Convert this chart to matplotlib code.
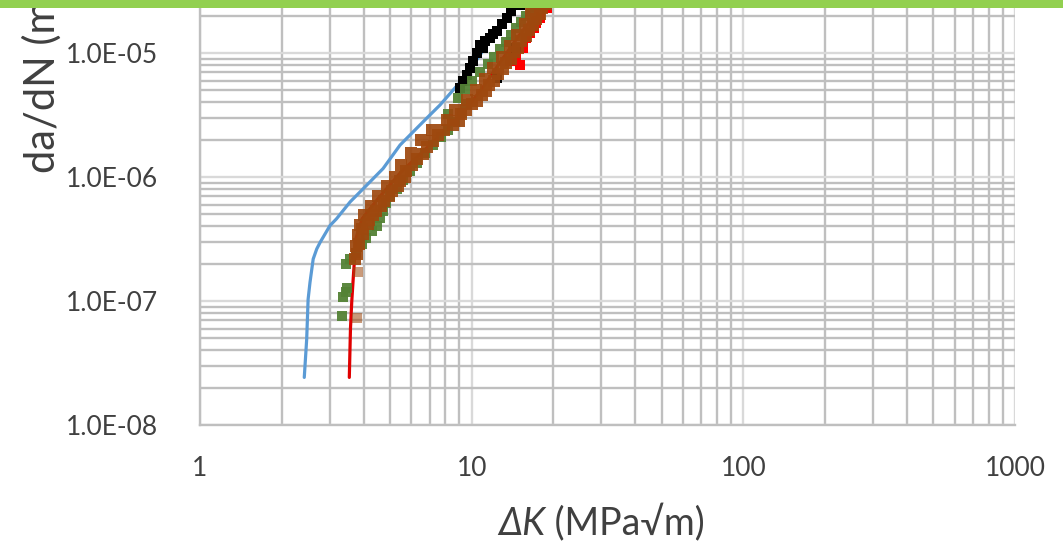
import matplotlib
matplotlib.use("Agg")
import matplotlib.pyplot as plt
from matplotlib.patches import Rectangle
from matplotlib.ticker import LogLocator, FixedLocator, NullFormatter

# ---------------- data ----------------
blue_dK = [2.42, 2.47, 2.50, 2.54, 2.61, 2.69, 2.77, 3.01, 3.18, 3.57, 3.99, 4.72, 5.45, 6.83, 7.64, 9.58, 12.7, 14.6]
blue_dadN = [2.42e-8, 4.9e-8, 1.03e-7, 1.41e-7, 2.18e-7, 2.63e-7, 2.98e-7, 4.06e-7, 4.6e-7, 6.3e-7, 8.05e-7,
             1.17e-6, 1.81e-6, 2.98e-6, 3.8e-6, 6.68e-6, 1.66e-5, 2.47e-5]

red_line_dK = [3.545, 3.58, 3.62, 3.67, 3.75, 3.95, 4.5, 5.5, 7.0, 9.0, 11.0, 13.0, 15.0, 17.0, 19.0]
red_line_dadN = [2.42e-8, 6.0e-8, 1.0e-7, 1.6e-7, 3.2e-7, 4.6e-7, 6.6e-7, 1.1e-6, 1.8e-6, 3.0e-6, 5.3e-6,
                 9.0e-6, 1.4e-5, 2.0e-5, 2.6e-5]

red_dK = [13.8, 14.2, 14.6, 15.1, 15.4, 15.9, 16.4, 16.9, 17.3, 17.8, 18.9]
red_dadN = [8.6e-6, 1.0e-5, 9.7e-6, 8.05e-6, 1.1e-5, 1.33e-5, 1.45e-5, 1.6e-5, 1.75e-5, 1.93e-5, 2.32e-5]

black_dK = [9.06, 9.3, 9.58, 9.9, 10.14, 10.5, 10.7, 11.0, 11.2, 11.7, 12.0, 12.4, 12.4, 12.9, 13.5, 14.0, 14.6, 15.1]
black_dadN = [5.2e-6, 5.9e-6, 6.7e-6, 7.6e-6, 8.6e-6, 1.0e-5, 1.17e-5, 1.1e-5, 1.25e-5, 1.33e-5, 1.42e-5,
              1.5e-5, 6.3e-6, 1.7e-5, 1.93e-5, 2.18e-5, 1.1e-5, 2.45e-5]

green_dK = [3.32, 3.37, 3.45, 3.48, 3.46, 3.58, 3.75, 3.95, 4.10, 4.30, 4.47, 4.60, 4.72, 4.85, 5.00, 5.30,
            5.60, 5.95, 6.30, 6.75, 7.20, 7.70, 8.20, 8.70, 9.20, 9.50,
            8.20, 8.90, 9.45, 10.0, 10.7, 11.5, 12.1, 12.7, 13.4, 14.0, 14.6, 15.2, 15.9, 16.5, 17.1, 17.7]
green_dadN = [7.6e-8, 1.07e-7, 1.18e-7, 1.28e-7, 2.0e-7, 2.2e-7, 2.45e-7, 2.9e-7, 3.2e-7, 3.7e-7, 4.0e-7,
              4.7e-7, 5.3e-7, 6.2e-7, 7.0e-7, 8.0e-7, 9.5e-7, 1.12e-6, 1.3e-6, 1.55e-6, 1.8e-6, 2.1e-6,
              2.4e-6, 2.8e-6, 3.3e-6, 3.9e-6,
              3.2e-6, 4.3e-6, 5.1e-6, 6.0e-6, 7.0e-6, 8.1e-6, 9.3e-6, 1.07e-5, 1.22e-5, 1.4e-5, 1.58e-5,
              1.78e-5, 1.98e-5, 2.18e-5, 2.35e-5, 2.6e-5]

brown_light_dK = [3.77, 3.80]
brown_light_dadN = [7.3e-8, 1.7e-7]

brown_dK = [3.73, 3.79, 3.75, 3.84, 3.80, 3.98, 3.88, 4.15, 4.02, 4.35, 4.25, 4.62, 4.52, 4.98, 4.88, 5.35,
            5.20, 5.70, 5.50, 6.05, 6.00, 6.60, 6.50, 7.20, 7.15, 7.90, 8.10, 8.95, 8.70, 9.55, 9.60, 10.5,
            10.4, 11.3, 11.2, 12.1, 12.0, 13.0, 12.9, 13.9, 13.8, 14.8, 14.7, 15.8, 15.7, 16.8, 16.6, 17.8,
            17.6, 18.8,
            3.95, 4.18, 4.45, 4.75, 5.10, 5.45, 5.75, 6.30, 6.83, 7.50, 8.55, 9.10, 10.0, 10.9, 11.6, 12.5,
            13.4, 14.3, 15.2, 16.2, 17.2, 18.2]
brown_dadN = [2.2e-7, 2.4e-7, 2.8e-7, 2.9e-7, 3.4e-7, 3.5e-7, 4.1e-7, 4.2e-7, 4.9e-7, 4.9e-7, 5.8e-7, 5.8e-7,
              7.0e-7, 7.0e-7, 8.5e-7, 8.4e-7, 1.0e-6, 1.0e-6, 1.25e-6, 1.24e-6, 1.55e-6, 1.54e-6, 1.98e-6,
              1.95e-6, 2.4e-6, 2.38e-6, 2.9e-6, 2.85e-6, 3.5e-6, 3.45e-6, 4.2e-6, 4.1e-6, 5.0e-6, 4.9e-6,
              6.2e-6, 6.0e-6, 7.6e-6, 7.4e-6, 9.3e-6, 9.0e-6, 1.14e-5, 1.1e-5, 1.4e-5, 1.36e-5, 1.72e-5,
              1.68e-5, 2.1e-5, 2.05e-5, 2.6e-5, 2.5e-5,
              3.8e-7, 4.5e-7, 5.3e-7, 6.4e-7, 7.7e-7, 9.2e-7, 1.12e-6, 1.4e-6, 1.75e-6, 2.2e-6, 2.65e-6,
              3.2e-6, 3.85e-6, 4.55e-6, 5.5e-6, 6.8e-6, 8.3e-6, 1.02e-5, 1.25e-5, 1.53e-5, 1.88e-5, 2.3e-5]

x_ticks = [1, 10, 100, 1000]
x_tick_labels = ["1", "10", "100", "1000"]
y_ticks = [1e-8, 1e-7, 1e-6, 1e-5]
y_tick_labels = ["1.0E-08", "1.0E-07", "1.0E-06", "1.0E-05"]

# ---------------- figure ----------------
W, H = 1063, 544
fig = plt.figure(figsize=(W / 100, H / 100), dpi=100)
FONT = ["Lato", "DejaVu Sans"]
TXT = "#404040"

ax = fig.add_axes([200 / W, 1 - 425 / H, 815 / W, 425 / H])
ax.set_xscale("log")
ax.set_yscale("log")
ax.set_xlim(1, 1000)
ax.set_ylim(1e-8, 10 ** (-8 + 425 / 124))

ax.xaxis.set_major_locator(FixedLocator(x_ticks))
ax.yaxis.set_major_locator(FixedLocator(y_ticks))
ax.xaxis.set_minor_locator(LogLocator(base=10, subs=range(2, 10), numticks=20))
ax.yaxis.set_minor_locator(LogLocator(base=10, subs=range(2, 10), numticks=20))
ax.xaxis.set_minor_formatter(NullFormatter())
ax.yaxis.set_minor_formatter(NullFormatter())
ax.set_xticklabels(x_tick_labels, fontsize=19, family=FONT, color=TXT)
ax.set_yticklabels(y_tick_labels, fontsize=19, family=FONT, color=TXT)
ax.tick_params(which="both", length=0)
ax.tick_params(axis="x", pad=22)
ax.tick_params(axis="y", pad=30)

ax.grid(which="minor", color="#BFBFBF", lw=1.7)
ax.grid(which="major", color="#D9D9D9", lw=1.7)
ax.set_axisbelow(True)
for s in ["top", "right"]:
    ax.spines[s].set_visible(False)
for s in ["left", "bottom"]:
    ax.spines[s].set_color("#BFBFBF")
    ax.spines[s].set_linewidth(1.7)

# series
ax.plot(blue_dK, blue_dadN, color="#5B9BD5", lw=2.3, zorder=3, solid_capstyle="round")
ax.plot(red_line_dK, red_line_dadN, color="#E00000", lw=2.3, zorder=4, solid_capstyle="round")
ax.plot(red_dK, red_dadN, ls="none", marker="s", ms=7, mew=0, color="#FF0000", zorder=5)
ax.plot(black_dK, black_dadN, ls="none", marker="s", ms=7, mew=0, color="#000000", zorder=6)
ax.plot(green_dK, green_dadN, ls="none", marker="s", ms=7.5, mew=0, color="#548235", alpha=0.95, zorder=7)
ax.plot(brown_light_dK, brown_light_dadN, ls="none", marker="s", ms=7.5, mew=0, color="#9E480E",
        alpha=0.55, zorder=8)
ax.plot(brown_dK, brown_dadN, ls="none", marker="s", ms=8.2, mew=0, color="#9E480E", alpha=0.92, zorder=8)

# axis titles
fig.text(42 / W, 1 - 173 / H, "da/dN (m/cycle)", rotation=90, ha="center", va="bottom",
         fontsize=30, family=FONT, color=TXT)
t1 = fig.text(498 / W, 1 - 535 / H, "ΔK", fontsize=27, family=FONT, style="italic",
              ha="left", va="baseline", color=TXT)
ax.annotate(" (MPa√m)", xy=(1, 0), xycoords=t1, xytext=(0, 0), textcoords="offset points",
            fontsize=27, family=FONT, ha="left", va="bottom", color=TXT, annotation_clip=False)

# top green band
fig.patches.append(Rectangle((0, 1 - 8 / H), 1, 8 / H, transform=fig.transFigure,
                             facecolor="#92D050", edgecolor="none", zorder=10))

fig.savefig("out.png", dpi=100)
